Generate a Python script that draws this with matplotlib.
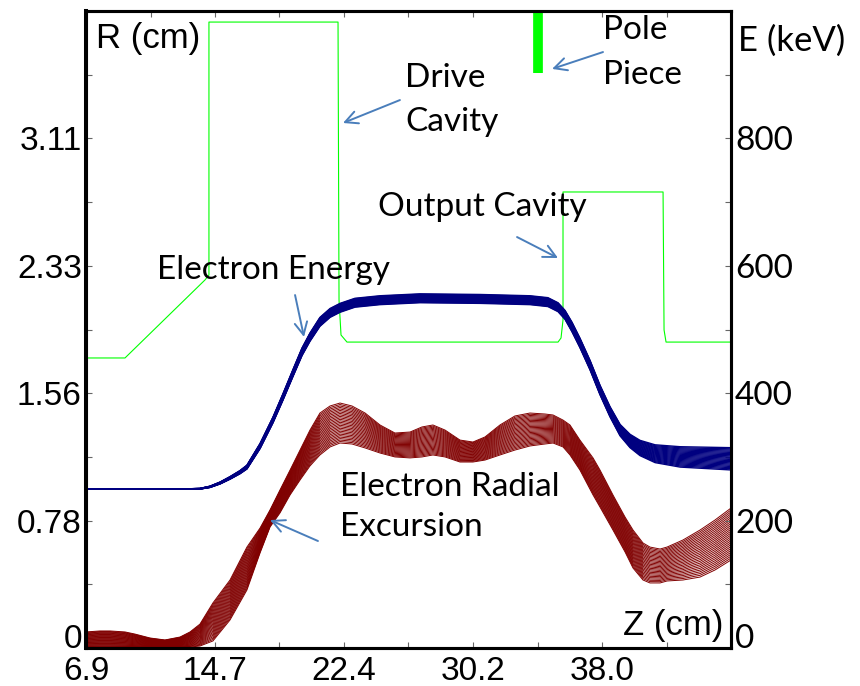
import numpy as np
import matplotlib.pyplot as plt
from matplotlib.transforms import ScaledTranslation

# cavity / pole-piece outline, R (cm) vs Z (cm)
green_z = [6.9, 9.25, 14.07, 14.31, 14.31, 22.09, 22.15, 22.27, 22.63, 35.35, 35.53, 35.65, 35.65,
           41.68, 41.74, 41.86, 45.775]
green_r = [1.770, 1.770, 2.246, 2.276, 3.820, 3.820, 2.124, 1.910, 1.867, 1.867, 1.892, 2.002, 2.783,
           2.783, 1.941, 1.867, 1.867]
pole_z = 34.14
pole_r = [3.51, 3.8875]

# electron energy bundle (keV): centre and total spread of the trajectories
energy_z = [6.90, 10.76, 13.17, 13.77, 14.37, 14.98, 15.58, 16.18, 16.60, 17.39, 18.17, 18.77, 19.38,
            19.92, 20.40, 21.00, 21.61, 22.21, 23.11, 24.62, 27.03, 30.65, 33.66, 34.74, 35.35,
            35.77, 36.19, 36.67, 37.28, 37.88, 38.48, 39.09, 39.69, 40.29, 41.20, 42.71, 45.775]
energy_mid = [250, 250, 250, 250, 253, 259, 267, 276, 284, 317, 358, 394, 432,
              465, 488, 512, 526, 534, 542, 546, 549, 548, 546, 543, 535,
              523, 504, 479, 444, 405, 371, 342, 325, 314, 305, 300, 297]
energy_spread = [0, 0, 0, 1, 2, 3, 4, 5, 6, 8, 9, 10, 11,
                 12, 13, 14, 14, 14, 14, 14, 14, 14, 14, 14, 14,
                 14, 15, 15, 15, 15, 16, 18, 21, 24, 28, 32, 35]

# radial excursion bundle (cm): lower / upper envelope
radial_z = [6.90, 7.74, 8.35, 9.25, 9.85, 10.76, 11.66, 12.57, 13.17, 13.77, 14.55, 15.58, 16.60,
            17.39, 17.99, 18.59, 19.20, 19.80, 20.40, 21.00, 21.61, 22.21, 22.93, 23.72, 24.62,
            25.52, 26.43, 27.15, 27.81, 28.54, 29.44, 30.22, 30.95, 31.85, 32.75, 33.66, 34.56,
            35.05, 35.65, 36.07, 36.67, 37.46, 37.88, 38.66, 39.39, 39.87, 40.47, 40.89, 41.50,
            41.92, 42.88, 43.91, 44.81, 45.775]
radial_hi = [0.098, 0.104, 0.104, 0.098, 0.085, 0.061, 0.049, 0.067, 0.098, 0.146, 0.275, 0.415, 0.616,
             0.732, 0.842, 0.964, 1.086, 1.208, 1.330, 1.434, 1.477, 1.495, 1.477, 1.434, 1.361,
             1.312, 1.318, 1.349, 1.361, 1.330, 1.269, 1.257, 1.288, 1.361, 1.416, 1.434, 1.428,
             1.422, 1.391, 1.361, 1.269, 1.160, 1.086, 0.934, 0.799, 0.720, 0.641, 0.616, 0.604,
             0.616, 0.659, 0.720, 0.781, 0.854]
radial_lo = [0.006, 0.006, 0.006, 0.006, 0.006, 0.006, 0.006, 0.006, 0.006, 0.012, 0.043, 0.171, 0.354,
             0.580, 0.738, 0.824, 0.934, 1.025, 1.111, 1.178, 1.227, 1.251, 1.245, 1.221, 1.190,
             1.166, 1.160, 1.166, 1.178, 1.166, 1.135, 1.135, 1.147, 1.178, 1.208, 1.233, 1.245,
             1.251, 1.227, 1.178, 1.086, 0.934, 0.860, 0.720, 0.586, 0.488, 0.415, 0.397, 0.397,
             0.409, 0.415, 0.433, 0.476, 0.537]

z_ticks = [6.9 + k * 3.8875 for k in range(10)]
z_labels = ['6.9', '', '14.7', '', '22.4', '', '30.2', '', '38.0', '']
r_ticks = [k * 0.38875 for k in range(10)]
r_labels = ['0', '', '0.78', '', '1.56', '', '2.33', '', '3.11', '']
e_ticks = [k * 100 for k in range(10)]
e_labels = ['0', '', '200', '', '400', '', '600', '', '800', '']

ARIAL = 'Liberation Sans'
SANS = 'Lato'
arrow_col = '#4a7ebb'

fig = plt.figure(figsize=(8.6, 6.86), dpi=100)
ax = fig.add_axes([86 / 860, 38 / 686, 645 / 860, 637 / 686])
ax2 = ax.twinx()

ax.plot(green_z, green_r, color='#00ff00', lw=0.8, zorder=2)
ax.plot([pole_z, pole_z], pole_r, color='#00ff00', lw=7, solid_capstyle='butt', zorder=2)

# energy trajectories
mid = np.array(energy_mid, float)
spr = np.array(energy_spread, float)
for f in np.linspace(-0.5, 0.5, 20):
    ax2.plot(energy_z, mid + f * spr, color='#000080', lw=1.0)

# radial trajectories
lo = np.array(radial_lo)
hi = np.array(radial_hi)
for f in np.linspace(0, 1, 28):
    ax.plot(radial_z, lo + f * (hi - lo), color='#800000', lw=0.7)

ax.set_xlim(6.9, 45.775)
ax.set_ylim(0, 3.8875)
ax2.set_ylim(0, 1000)

ax.set_xticks(z_ticks)
ax.set_xticklabels(z_labels, fontfamily=ARIAL, fontsize=24)
ax.set_yticks(r_ticks)
ax.set_yticklabels(r_labels, fontfamily=ARIAL, fontsize=24)
ax2.set_yticks(e_ticks)
ax2.set_yticklabels(e_labels, fontfamily=SANS, fontsize=24)

ax.tick_params(axis='x', direction='in', length=4, width=0.8, color='#666666', top=True, pad=6)
ax.tick_params(axis='y', direction='in', length=4, width=0.8, color='#666666', pad=3)
ax2.tick_params(axis='y', direction='in', length=4, width=0.8, color='#666666', pad=3)

# lift the two zero labels off the bottom spine so they clear the z labels
lift = ScaledTranslation(0, 12 / 100, fig.dpi_scale_trans)
for lab in (ax.get_yticklabels()[0], ax2.get_yticklabels()[0]):
    lab.set_transform(lab.get_transform() + lift)

for a in (ax, ax2):
    for s in a.spines.values():
        s.set_linewidth(2.2)
ax.spines['left'].set_linewidth(2.9)

ax.text(0.0155, 0.957, 'R (cm)', transform=ax.transAxes, fontfamily=ARIAL, fontsize=25,
        ha='left', va='center')
ax.text(0.9876, 0.036, 'Z (cm)', transform=ax.transAxes, fontfamily=ARIAL, fontsize=25,
        ha='right', va='center')
ax.text(1.011, 0.954, 'E (keV)', transform=ax.transAxes, fontfamily=SANS, fontsize=25,
        ha='left', va='center', clip_on=False)

labels = [
    ('Drive', 26.13, 3.479), ('Cavity', 26.13, 3.210),
    ('Pole', 38.06, 3.772), ('Piece', 38.06, 3.497),
    ('Output Cavity', 24.50, 2.691),
    ('Electron Energy', 11.18, 2.307),
    ('Electron Radial', 22.21, 0.983), ('Excursion', 22.21, 0.738),
]
for txt, x, y in labels:
    ax.text(x, y, txt, fontfamily=SANS, fontsize=24, ha='left', va='center', zorder=5)

arrows = [
    ((25.82, 3.344), (22.39, 3.204)),
    ((38.06, 3.637), (34.99, 3.534)),
    ((32.88, 2.508), (35.35, 2.380)),
    ((19.50, 2.154), (20.04, 1.898)),
    ((20.88, 0.653), (17.99, 0.781)),
]
for tail, tip in arrows:
    ax.annotate('', xy=tip, xytext=tail,
                arrowprops=dict(arrowstyle='->,head_length=0.9,head_width=0.45',
                                color=arrow_col, lw=1.4, shrinkA=0, shrinkB=0),
                zorder=6)

fig.savefig('out.png', dpi=100)
